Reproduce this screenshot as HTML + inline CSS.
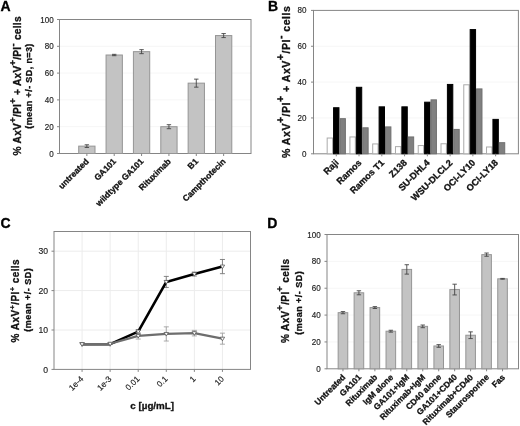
<!DOCTYPE html>
<html><head><meta charset="utf-8"><style>
html,body{margin:0;padding:0;background:#fff;}
body{width:520px;height:426px;overflow:hidden;}
svg{display:block;filter:blur(0.4px);font-family:"Liberation Sans", sans-serif;}
</style></head><body>
<svg width="520" height="426" viewBox="0 0 520 426">
<rect width="520" height="426" fill="#fff"/>
<line x1="59.5" y1="126.70" x2="251" y2="126.70" stroke="#f6f6f6" stroke-width="1"/>
<line x1="59.5" y1="99.90" x2="251" y2="99.90" stroke="#f6f6f6" stroke-width="1"/>
<line x1="59.5" y1="73.10" x2="251" y2="73.10" stroke="#f6f6f6" stroke-width="1"/>
<line x1="59.5" y1="46.30" x2="251" y2="46.30" stroke="#f6f6f6" stroke-width="1"/>
<rect x="59.5" y="19.5" width="191.5" height="134.0" fill="none" stroke="#858585" stroke-width="1"/>
<line x1="57.0" y1="153.50" x2="59.5" y2="153.50" stroke="#858585" stroke-width="1"/>
<text transform="translate(53.8 156.56) scale(0.95 1.08)" font-size="8.5" text-anchor="end" fill="#222" stroke="#222" stroke-width="0.15">0</text>
<line x1="57.0" y1="126.70" x2="59.5" y2="126.70" stroke="#858585" stroke-width="1"/>
<text transform="translate(53.8 129.76) scale(0.95 1.08)" font-size="8.5" text-anchor="end" fill="#222" stroke="#222" stroke-width="0.15">20</text>
<line x1="57.0" y1="99.90" x2="59.5" y2="99.90" stroke="#858585" stroke-width="1"/>
<text transform="translate(53.8 102.96) scale(0.95 1.08)" font-size="8.5" text-anchor="end" fill="#222" stroke="#222" stroke-width="0.15">40</text>
<line x1="57.0" y1="73.10" x2="59.5" y2="73.10" stroke="#858585" stroke-width="1"/>
<text transform="translate(53.8 76.16) scale(0.95 1.08)" font-size="8.5" text-anchor="end" fill="#222" stroke="#222" stroke-width="0.15">60</text>
<line x1="57.0" y1="46.30" x2="59.5" y2="46.30" stroke="#858585" stroke-width="1"/>
<text transform="translate(53.8 49.36) scale(0.95 1.08)" font-size="8.5" text-anchor="end" fill="#222" stroke="#222" stroke-width="0.15">80</text>
<line x1="57.0" y1="19.50" x2="59.5" y2="19.50" stroke="#858585" stroke-width="1"/>
<text transform="translate(53.8 22.56) scale(0.95 1.08)" font-size="8.5" text-anchor="end" fill="#222" stroke="#222" stroke-width="0.15">100</text>
<rect x="78.71" y="146.13" width="16.3" height="7.37" fill="#c3c3c3" stroke="#959595" stroke-width="1"/>
<line x1="86.85714285714286" y1="144.79" x2="86.85714285714286" y2="147.47" stroke="#444" stroke-width="0.9"/>
<line x1="84.65714285714286" y1="144.79" x2="89.05714285714286" y2="144.79" stroke="#444" stroke-width="0.9"/>
<line x1="84.65714285714286" y1="147.47" x2="89.05714285714286" y2="147.47" stroke="#444" stroke-width="0.9"/>
<line x1="86.86" y1="153.5" x2="86.86" y2="156.0" stroke="#858585" stroke-width="1"/>
<text x="89.36" y="162.00" font-size="8.5" font-weight="bold" text-anchor="end" fill="#111" stroke="#111" stroke-width="0.3" transform="rotate(-45 89.35714285714286 162.0)">untreated</text>
<rect x="106.06" y="55.01" width="16.3" height="98.49" fill="#c3c3c3" stroke="#959595" stroke-width="1"/>
<line x1="114.21428571428572" y1="54.34" x2="114.21428571428572" y2="55.68" stroke="#444" stroke-width="0.9"/>
<line x1="112.01428571428572" y1="54.34" x2="116.41428571428573" y2="54.34" stroke="#444" stroke-width="0.9"/>
<line x1="112.01428571428572" y1="55.68" x2="116.41428571428573" y2="55.68" stroke="#444" stroke-width="0.9"/>
<line x1="114.21" y1="153.5" x2="114.21" y2="156.0" stroke="#858585" stroke-width="1"/>
<text x="116.71" y="162.00" font-size="8.5" font-weight="bold" text-anchor="end" fill="#111" stroke="#111" stroke-width="0.3" transform="rotate(-45 116.71428571428572 162.0)">GA101</text>
<rect x="133.42" y="51.66" width="16.3" height="101.84" fill="#c3c3c3" stroke="#959595" stroke-width="1"/>
<line x1="141.57142857142856" y1="49.65" x2="141.57142857142856" y2="53.67" stroke="#444" stroke-width="0.9"/>
<line x1="139.37142857142857" y1="49.65" x2="143.77142857142854" y2="49.65" stroke="#444" stroke-width="0.9"/>
<line x1="139.37142857142857" y1="53.67" x2="143.77142857142854" y2="53.67" stroke="#444" stroke-width="0.9"/>
<line x1="141.57" y1="153.5" x2="141.57" y2="156.0" stroke="#858585" stroke-width="1"/>
<text x="144.07" y="162.00" font-size="8.5" font-weight="bold" text-anchor="end" fill="#111" stroke="#111" stroke-width="0.3" transform="rotate(-45 144.07142857142856 162.0)">wildtype GA101</text>
<rect x="160.78" y="126.70" width="16.3" height="26.80" fill="#c3c3c3" stroke="#959595" stroke-width="1"/>
<line x1="168.92857142857144" y1="124.69" x2="168.92857142857144" y2="128.71" stroke="#444" stroke-width="0.9"/>
<line x1="166.72857142857146" y1="124.69" x2="171.12857142857143" y2="124.69" stroke="#444" stroke-width="0.9"/>
<line x1="166.72857142857146" y1="128.71" x2="171.12857142857143" y2="128.71" stroke="#444" stroke-width="0.9"/>
<line x1="168.93" y1="153.5" x2="168.93" y2="156.0" stroke="#858585" stroke-width="1"/>
<text x="171.43" y="162.00" font-size="8.5" font-weight="bold" text-anchor="end" fill="#111" stroke="#111" stroke-width="0.3" transform="rotate(-45 171.42857142857144 162.0)">Rituximab</text>
<rect x="188.14" y="83.15" width="16.3" height="70.35" fill="#c3c3c3" stroke="#959595" stroke-width="1"/>
<line x1="196.28571428571428" y1="79.13" x2="196.28571428571428" y2="87.17" stroke="#444" stroke-width="0.9"/>
<line x1="194.0857142857143" y1="79.13" x2="198.48571428571427" y2="79.13" stroke="#444" stroke-width="0.9"/>
<line x1="194.0857142857143" y1="87.17" x2="198.48571428571427" y2="87.17" stroke="#444" stroke-width="0.9"/>
<line x1="196.29" y1="153.5" x2="196.29" y2="156.0" stroke="#858585" stroke-width="1"/>
<text x="198.79" y="162.00" font-size="8.5" font-weight="bold" text-anchor="end" fill="#111" stroke="#111" stroke-width="0.3" transform="rotate(-45 198.78571428571428 162.0)">B1</text>
<rect x="215.49" y="35.58" width="16.3" height="117.92" fill="#c3c3c3" stroke="#959595" stroke-width="1"/>
<line x1="223.64285714285714" y1="33.57" x2="223.64285714285714" y2="37.59" stroke="#444" stroke-width="0.9"/>
<line x1="221.44285714285715" y1="33.57" x2="225.84285714285713" y2="33.57" stroke="#444" stroke-width="0.9"/>
<line x1="221.44285714285715" y1="37.59" x2="225.84285714285713" y2="37.59" stroke="#444" stroke-width="0.9"/>
<line x1="223.64" y1="153.5" x2="223.64" y2="156.0" stroke="#858585" stroke-width="1"/>
<text x="226.14" y="162.00" font-size="8.5" font-weight="bold" text-anchor="end" fill="#111" stroke="#111" stroke-width="0.3" transform="rotate(-45 226.14285714285714 162.0)">Campthotecin</text>
<text transform="translate(21.3 85.9) rotate(-90)" font-size="10.2" font-weight="bold" text-anchor="middle" textLength="139" lengthAdjust="spacing" fill="#111" stroke="#111" stroke-width="0.3"><tspan dy="0">% AxV</tspan><tspan dy="-5" font-size="9.5">+</tspan><tspan dy="5">/PI</tspan><tspan dy="-5" font-size="9.5">+</tspan><tspan dy="5"> + AxV</tspan><tspan dy="-5" font-size="9.5">+</tspan><tspan dy="5">/PI</tspan><tspan dy="-5" font-size="9.5">-</tspan><tspan dy="5"> cells</tspan></text>
<text transform="translate(32 86.2) rotate(-90)" font-size="9" font-weight="bold" text-anchor="middle" textLength="85" lengthAdjust="spacing" fill="#111" stroke="#111" stroke-width="0.3">(mean +/- SD, n=3)</text>
<text x="0.50" y="11.00" font-size="14" font-weight="bold" text-anchor="start" fill="#000" stroke="#000" stroke-width="0.3">A</text>
<line x1="313.5" y1="117.95" x2="518.4" y2="117.95" stroke="#f6f6f6" stroke-width="1"/>
<line x1="313.5" y1="82.10" x2="518.4" y2="82.10" stroke="#f6f6f6" stroke-width="1"/>
<line x1="313.5" y1="46.25" x2="518.4" y2="46.25" stroke="#f6f6f6" stroke-width="1"/>
<rect x="313.5" y="10.4" width="204.89999999999998" height="143.4" fill="none" stroke="#858585" stroke-width="1"/>
<line x1="311.0" y1="153.80" x2="313.5" y2="153.80" stroke="#858585" stroke-width="1"/>
<text transform="translate(306.5 156.86) scale(0.95 1.08)" font-size="8.5" text-anchor="end" fill="#222" stroke="#222" stroke-width="0.15">0</text>
<line x1="311.0" y1="117.95" x2="313.5" y2="117.95" stroke="#858585" stroke-width="1"/>
<text transform="translate(306.5 121.01) scale(0.95 1.08)" font-size="8.5" text-anchor="end" fill="#222" stroke="#222" stroke-width="0.15">20</text>
<line x1="311.0" y1="82.10" x2="313.5" y2="82.10" stroke="#858585" stroke-width="1"/>
<text transform="translate(306.5 85.16) scale(0.95 1.08)" font-size="8.5" text-anchor="end" fill="#222" stroke="#222" stroke-width="0.15">40</text>
<line x1="311.0" y1="46.25" x2="313.5" y2="46.25" stroke="#858585" stroke-width="1"/>
<text transform="translate(306.5 49.31) scale(0.95 1.08)" font-size="8.5" text-anchor="end" fill="#222" stroke="#222" stroke-width="0.15">60</text>
<line x1="311.0" y1="10.40" x2="313.5" y2="10.40" stroke="#858585" stroke-width="1"/>
<text transform="translate(306.5 13.46) scale(0.95 1.08)" font-size="8.5" text-anchor="end" fill="#222" stroke="#222" stroke-width="0.15">80</text>
<rect x="327.17" y="138.03" width="5.40" height="15.77" fill="#ffffff" stroke="#aaa" stroke-width="1"/>
<rect x="333.57" y="107.73" width="5.40" height="46.07" fill="#000000" stroke="#000" stroke-width="1"/>
<rect x="339.97" y="118.67" width="5.40" height="35.13" fill="#808080" stroke="#707070" stroke-width="1"/>
<line x1="336.27" y1="153.8" x2="336.27" y2="156.3" stroke="#858585" stroke-width="1"/>
<text x="339.27" y="163.30" font-size="9.2" font-weight="bold" text-anchor="end" fill="#111" stroke="#111" stroke-width="0.3" transform="rotate(-45 339.26666666666665 163.3)">Raji</text>
<rect x="349.93" y="136.95" width="5.40" height="16.85" fill="#ffffff" stroke="#aaa" stroke-width="1"/>
<rect x="356.33" y="87.30" width="5.40" height="66.50" fill="#000000" stroke="#000" stroke-width="1"/>
<rect x="362.73" y="127.81" width="5.40" height="25.99" fill="#808080" stroke="#707070" stroke-width="1"/>
<line x1="359.03" y1="153.8" x2="359.03" y2="156.3" stroke="#858585" stroke-width="1"/>
<text x="362.03" y="163.30" font-size="9.2" font-weight="bold" text-anchor="end" fill="#111" stroke="#111" stroke-width="0.3" transform="rotate(-45 362.0333333333333 163.3)">Ramos</text>
<rect x="372.70" y="143.94" width="5.40" height="9.86" fill="#ffffff" stroke="#aaa" stroke-width="1"/>
<rect x="379.10" y="106.84" width="5.40" height="46.96" fill="#000000" stroke="#000" stroke-width="1"/>
<rect x="385.50" y="126.91" width="5.40" height="26.89" fill="#808080" stroke="#707070" stroke-width="1"/>
<line x1="381.80" y1="153.8" x2="381.80" y2="156.3" stroke="#858585" stroke-width="1"/>
<text x="384.80" y="163.30" font-size="9.2" font-weight="bold" text-anchor="end" fill="#111" stroke="#111" stroke-width="0.3" transform="rotate(-45 384.8 163.3)">Ramos T1</text>
<rect x="395.47" y="146.63" width="5.40" height="7.17" fill="#ffffff" stroke="#aaa" stroke-width="1"/>
<rect x="401.87" y="106.84" width="5.40" height="46.96" fill="#000000" stroke="#000" stroke-width="1"/>
<rect x="408.27" y="136.95" width="5.40" height="16.85" fill="#808080" stroke="#707070" stroke-width="1"/>
<line x1="404.57" y1="153.8" x2="404.57" y2="156.3" stroke="#858585" stroke-width="1"/>
<text x="407.57" y="163.30" font-size="9.2" font-weight="bold" text-anchor="end" fill="#111" stroke="#111" stroke-width="0.3" transform="rotate(-45 407.56666666666666 163.3)">Z138</text>
<rect x="418.23" y="145.55" width="5.40" height="8.25" fill="#ffffff" stroke="#aaa" stroke-width="1"/>
<rect x="424.63" y="102.18" width="5.40" height="51.62" fill="#000000" stroke="#000" stroke-width="1"/>
<rect x="431.03" y="99.85" width="5.40" height="53.95" fill="#808080" stroke="#707070" stroke-width="1"/>
<line x1="427.33" y1="153.8" x2="427.33" y2="156.3" stroke="#858585" stroke-width="1"/>
<text x="430.33" y="163.30" font-size="9.2" font-weight="bold" text-anchor="end" fill="#111" stroke="#111" stroke-width="0.3" transform="rotate(-45 430.3333333333333 163.3)">SU-DHL4</text>
<rect x="441.00" y="143.76" width="5.40" height="10.04" fill="#ffffff" stroke="#aaa" stroke-width="1"/>
<rect x="447.40" y="84.43" width="5.40" height="69.37" fill="#000000" stroke="#000" stroke-width="1"/>
<rect x="453.80" y="129.42" width="5.40" height="24.38" fill="#808080" stroke="#707070" stroke-width="1"/>
<line x1="450.10" y1="153.8" x2="450.10" y2="156.3" stroke="#858585" stroke-width="1"/>
<text x="453.10" y="163.30" font-size="9.2" font-weight="bold" text-anchor="end" fill="#111" stroke="#111" stroke-width="0.3" transform="rotate(-45 453.1 163.3)">WSU-DLCL2</text>
<rect x="463.77" y="84.79" width="5.40" height="69.01" fill="#ffffff" stroke="#aaa" stroke-width="1"/>
<rect x="470.17" y="29.58" width="5.40" height="124.22" fill="#000000" stroke="#000" stroke-width="1"/>
<rect x="476.57" y="88.91" width="5.40" height="64.89" fill="#808080" stroke="#707070" stroke-width="1"/>
<line x1="472.87" y1="153.8" x2="472.87" y2="156.3" stroke="#858585" stroke-width="1"/>
<text x="475.87" y="163.30" font-size="9.2" font-weight="bold" text-anchor="end" fill="#111" stroke="#111" stroke-width="0.3" transform="rotate(-45 475.8666666666667 163.3)">OCI-LY10</text>
<rect x="486.53" y="146.99" width="5.40" height="6.81" fill="#ffffff" stroke="#aaa" stroke-width="1"/>
<rect x="492.93" y="119.38" width="5.40" height="34.42" fill="#000000" stroke="#000" stroke-width="1"/>
<rect x="499.33" y="142.69" width="5.40" height="11.11" fill="#808080" stroke="#707070" stroke-width="1"/>
<line x1="495.63" y1="153.8" x2="495.63" y2="156.3" stroke="#858585" stroke-width="1"/>
<text x="498.63" y="163.30" font-size="9.2" font-weight="bold" text-anchor="end" fill="#111" stroke="#111" stroke-width="0.3" transform="rotate(-45 498.6333333333333 163.3)">OCI-LY18</text>
<text transform="translate(290 82.1) rotate(-90)" font-size="10.6" font-weight="bold" text-anchor="middle" textLength="152" lengthAdjust="spacing" fill="#111" stroke="#111" stroke-width="0.3"><tspan dy="0">% AxV</tspan><tspan dy="-6" font-size="10.5">+</tspan><tspan dy="6">/PI</tspan><tspan dy="-6" font-size="10.5">+</tspan><tspan dy="6"> + AxV</tspan><tspan dy="-6" font-size="10.5">+</tspan><tspan dy="6">/PI</tspan><tspan dy="-6" font-size="10.5">-</tspan><tspan dy="6"> cells</tspan></text>
<text x="268.00" y="10.50" font-size="14" font-weight="bold" text-anchor="start" fill="#000" stroke="#000" stroke-width="0.3">B</text>
<line x1="54" y1="330.00" x2="250.5" y2="330.00" stroke="#ececec" stroke-width="1"/>
<line x1="54" y1="290.60" x2="250.5" y2="290.60" stroke="#ececec" stroke-width="1"/>
<line x1="54" y1="251.20" x2="250.5" y2="251.20" stroke="#ececec" stroke-width="1"/>
<line x1="82.07" y1="231.5" x2="82.07" y2="369.4" stroke="#ececec" stroke-width="1"/>
<line x1="110.14" y1="231.5" x2="110.14" y2="369.4" stroke="#ececec" stroke-width="1"/>
<line x1="138.21" y1="231.5" x2="138.21" y2="369.4" stroke="#ececec" stroke-width="1"/>
<line x1="166.29" y1="231.5" x2="166.29" y2="369.4" stroke="#ececec" stroke-width="1"/>
<line x1="194.36" y1="231.5" x2="194.36" y2="369.4" stroke="#ececec" stroke-width="1"/>
<line x1="222.43" y1="231.5" x2="222.43" y2="369.4" stroke="#ececec" stroke-width="1"/>
<rect x="54" y="231.5" width="196.5" height="137.89999999999998" fill="none" stroke="#858585" stroke-width="1"/>
<line x1="51.5" y1="369.40" x2="54" y2="369.40" stroke="#858585" stroke-width="1"/>
<text x="48.00" y="372.50" font-size="8.6" font-weight="normal" text-anchor="end" fill="#222" stroke="#222" stroke-width="0.15">0</text>
<line x1="51.5" y1="330.00" x2="54" y2="330.00" stroke="#858585" stroke-width="1"/>
<text x="48.00" y="333.10" font-size="8.6" font-weight="normal" text-anchor="end" fill="#222" stroke="#222" stroke-width="0.15">10</text>
<line x1="51.5" y1="290.60" x2="54" y2="290.60" stroke="#858585" stroke-width="1"/>
<text x="48.00" y="293.70" font-size="8.6" font-weight="normal" text-anchor="end" fill="#222" stroke="#222" stroke-width="0.15">20</text>
<line x1="51.5" y1="251.20" x2="54" y2="251.20" stroke="#858585" stroke-width="1"/>
<text x="48.00" y="254.30" font-size="8.6" font-weight="normal" text-anchor="end" fill="#222" stroke="#222" stroke-width="0.15">30</text>
<line x1="82.07" y1="369.4" x2="82.07" y2="371.9" stroke="#858585" stroke-width="1"/>
<text x="84.07" y="379.40" font-size="8.3" font-weight="normal" text-anchor="end" fill="#222" transform="rotate(-45 84.07142857142857 379.4)" stroke="#222" stroke-width="0.15">1e-4</text>
<line x1="110.14" y1="369.4" x2="110.14" y2="371.9" stroke="#858585" stroke-width="1"/>
<text x="112.14" y="379.40" font-size="8.3" font-weight="normal" text-anchor="end" fill="#222" transform="rotate(-45 112.14285714285714 379.4)" stroke="#222" stroke-width="0.15">1e-3</text>
<line x1="138.21" y1="369.4" x2="138.21" y2="371.9" stroke="#858585" stroke-width="1"/>
<text x="140.21" y="379.40" font-size="8.3" font-weight="normal" text-anchor="end" fill="#222" transform="rotate(-45 140.21428571428572 379.4)" stroke="#222" stroke-width="0.15">0.01</text>
<line x1="166.29" y1="369.4" x2="166.29" y2="371.9" stroke="#858585" stroke-width="1"/>
<text x="168.29" y="379.40" font-size="8.3" font-weight="normal" text-anchor="end" fill="#222" transform="rotate(-45 168.28571428571428 379.4)" stroke="#222" stroke-width="0.15">0.1</text>
<line x1="194.36" y1="369.4" x2="194.36" y2="371.9" stroke="#858585" stroke-width="1"/>
<text x="196.36" y="379.40" font-size="8.3" font-weight="normal" text-anchor="end" fill="#222" transform="rotate(-45 196.35714285714286 379.4)" stroke="#222" stroke-width="0.15">1</text>
<line x1="222.43" y1="369.4" x2="222.43" y2="371.9" stroke="#858585" stroke-width="1"/>
<text x="224.43" y="379.40" font-size="8.3" font-weight="normal" text-anchor="end" fill="#222" transform="rotate(-45 224.42857142857144 379.4)" stroke="#222" stroke-width="0.15">10</text>
<line x1="138.21428571428572" y1="329.61" x2="138.21428571428572" y2="333.55" stroke="#777" stroke-width="0.9"/>
<line x1="135.71428571428572" y1="329.61" x2="140.71428571428572" y2="329.61" stroke="#777" stroke-width="0.9"/>
<line x1="135.71428571428572" y1="333.55" x2="140.71428571428572" y2="333.55" stroke="#777" stroke-width="0.9"/>
<line x1="166.28571428571428" y1="276.42" x2="166.28571428571428" y2="287.45" stroke="#777" stroke-width="0.9"/>
<line x1="163.78571428571428" y1="276.42" x2="168.78571428571428" y2="276.42" stroke="#777" stroke-width="0.9"/>
<line x1="163.78571428571428" y1="287.45" x2="168.78571428571428" y2="287.45" stroke="#777" stroke-width="0.9"/>
<line x1="194.35714285714286" y1="272.08" x2="194.35714285714286" y2="276.02" stroke="#777" stroke-width="0.9"/>
<line x1="191.85714285714286" y1="272.08" x2="196.85714285714286" y2="272.08" stroke="#777" stroke-width="0.9"/>
<line x1="191.85714285714286" y1="276.02" x2="196.85714285714286" y2="276.02" stroke="#777" stroke-width="0.9"/>
<line x1="222.42857142857144" y1="259.47" x2="222.42857142857144" y2="273.66" stroke="#777" stroke-width="0.9"/>
<line x1="219.92857142857144" y1="259.47" x2="224.92857142857144" y2="259.47" stroke="#777" stroke-width="0.9"/>
<line x1="219.92857142857144" y1="273.66" x2="224.92857142857144" y2="273.66" stroke="#777" stroke-width="0.9"/>
<path d="M82.07 344.18 L110.14 344.18 L138.21 331.58 L166.29 281.93 L194.36 274.05 L222.43 266.57" fill="none" stroke="#000" stroke-width="2.6" stroke-linejoin="round"/>
<path d="M79.87 342.68 L84.27 342.68 L82.07 346.28 Z" fill="#fff" stroke="#555" stroke-width="0.8"/>
<path d="M107.94 342.68 L112.34 342.68 L110.14 346.28 Z" fill="#fff" stroke="#555" stroke-width="0.8"/>
<path d="M136.01 330.08 L140.41 330.08 L138.21 333.68 Z" fill="#fff" stroke="#555" stroke-width="0.8"/>
<path d="M164.09 280.43 L168.49 280.43 L166.29 284.03 Z" fill="#fff" stroke="#555" stroke-width="0.8"/>
<path d="M192.16 272.55 L196.56 272.55 L194.36 276.15 Z" fill="#fff" stroke="#555" stroke-width="0.8"/>
<path d="M220.23 265.07 L224.63 265.07 L222.43 268.67 Z" fill="#fff" stroke="#555" stroke-width="0.8"/>
<line x1="138.21428571428572" y1="332.76" x2="138.21428571428572" y2="339.06" stroke="#a0a0a0" stroke-width="0.9"/>
<line x1="135.71428571428572" y1="332.76" x2="140.71428571428572" y2="332.76" stroke="#a0a0a0" stroke-width="0.9"/>
<line x1="135.71428571428572" y1="339.06" x2="140.71428571428572" y2="339.06" stroke="#a0a0a0" stroke-width="0.9"/>
<line x1="166.28571428571428" y1="326.85" x2="166.28571428571428" y2="341.03" stroke="#a0a0a0" stroke-width="0.9"/>
<line x1="163.78571428571428" y1="326.85" x2="168.78571428571428" y2="326.85" stroke="#a0a0a0" stroke-width="0.9"/>
<line x1="163.78571428571428" y1="341.03" x2="168.78571428571428" y2="341.03" stroke="#a0a0a0" stroke-width="0.9"/>
<line x1="194.35714285714286" y1="330.39" x2="194.35714285714286" y2="335.91" stroke="#a0a0a0" stroke-width="0.9"/>
<line x1="191.85714285714286" y1="330.39" x2="196.85714285714286" y2="330.39" stroke="#a0a0a0" stroke-width="0.9"/>
<line x1="191.85714285714286" y1="335.91" x2="196.85714285714286" y2="335.91" stroke="#a0a0a0" stroke-width="0.9"/>
<line x1="222.42857142857144" y1="333.15" x2="222.42857142857144" y2="344.18" stroke="#a0a0a0" stroke-width="0.9"/>
<line x1="219.92857142857144" y1="333.15" x2="224.92857142857144" y2="333.15" stroke="#a0a0a0" stroke-width="0.9"/>
<line x1="219.92857142857144" y1="344.18" x2="224.92857142857144" y2="344.18" stroke="#a0a0a0" stroke-width="0.9"/>
<path d="M82.07 344.18 L110.14 343.79 L138.21 335.91 L166.29 333.94 L194.36 333.15 L222.43 338.67" fill="none" stroke="#6e6e6e" stroke-width="2.2" stroke-linejoin="round"/>
<path d="M79.87 342.68 L84.27 342.68 L82.07 346.28 Z" fill="#fff" stroke="#555" stroke-width="0.8"/>
<path d="M107.94 342.29 L112.34 342.29 L110.14 345.89 Z" fill="#fff" stroke="#555" stroke-width="0.8"/>
<path d="M136.01 334.41 L140.41 334.41 L138.21 338.01 Z" fill="#fff" stroke="#555" stroke-width="0.8"/>
<path d="M164.09 332.44 L168.49 332.44 L166.29 336.04 Z" fill="#fff" stroke="#555" stroke-width="0.8"/>
<path d="M192.16 331.65 L196.56 331.65 L194.36 335.25 Z" fill="#fff" stroke="#555" stroke-width="0.8"/>
<path d="M220.23 337.17 L224.63 337.17 L222.43 340.77 Z" fill="#fff" stroke="#555" stroke-width="0.8"/>
<text transform="translate(19 300.9) rotate(-90)" font-size="10" font-weight="bold" text-anchor="middle" textLength="83" lengthAdjust="spacing" fill="#111" stroke="#111" stroke-width="0.3"><tspan dy="0">% AxV</tspan><tspan dy="-4.2" font-size="7.5">+</tspan><tspan dy="4.2">/PI</tspan><tspan dy="-4.2" font-size="7.5">+</tspan><tspan dy="4.2"> cells</tspan></text>
<text transform="translate(31 300) rotate(-90)" font-size="9" font-weight="bold" text-anchor="middle" textLength="63.5" lengthAdjust="spacing" fill="#111" stroke="#111" stroke-width="0.3">(mean +/- SD)</text>
<text x="152.20" y="409.30" font-size="9.8" font-weight="bold" text-anchor="middle" fill="#111" stroke="#111" stroke-width="0.3">c [µg/mL]</text>
<text x="0.50" y="228.00" font-size="14" font-weight="bold" text-anchor="start" fill="#000" stroke="#000" stroke-width="0.3">C</text>
<line x1="327" y1="341.94" x2="518.5" y2="341.94" stroke="#f6f6f6" stroke-width="1"/>
<line x1="327" y1="315.08" x2="518.5" y2="315.08" stroke="#f6f6f6" stroke-width="1"/>
<line x1="327" y1="288.22" x2="518.5" y2="288.22" stroke="#f6f6f6" stroke-width="1"/>
<line x1="327" y1="261.36" x2="518.5" y2="261.36" stroke="#f6f6f6" stroke-width="1"/>
<rect x="327" y="234.5" width="191.5" height="134.3" fill="none" stroke="#858585" stroke-width="1"/>
<line x1="324.5" y1="368.80" x2="327" y2="368.80" stroke="#858585" stroke-width="1"/>
<text transform="translate(320.8 371.86) scale(0.95 1.08)" font-size="8.5" text-anchor="end" fill="#222" stroke="#222" stroke-width="0.15">0</text>
<line x1="324.5" y1="341.94" x2="327" y2="341.94" stroke="#858585" stroke-width="1"/>
<text transform="translate(320.8 345.00) scale(0.95 1.08)" font-size="8.5" text-anchor="end" fill="#222" stroke="#222" stroke-width="0.15">20</text>
<line x1="324.5" y1="315.08" x2="327" y2="315.08" stroke="#858585" stroke-width="1"/>
<text transform="translate(320.8 318.14) scale(0.95 1.08)" font-size="8.5" text-anchor="end" fill="#222" stroke="#222" stroke-width="0.15">40</text>
<line x1="324.5" y1="288.22" x2="327" y2="288.22" stroke="#858585" stroke-width="1"/>
<text transform="translate(320.8 291.28) scale(0.95 1.08)" font-size="8.5" text-anchor="end" fill="#222" stroke="#222" stroke-width="0.15">60</text>
<line x1="324.5" y1="261.36" x2="327" y2="261.36" stroke="#858585" stroke-width="1"/>
<text transform="translate(320.8 264.42) scale(0.95 1.08)" font-size="8.5" text-anchor="end" fill="#222" stroke="#222" stroke-width="0.15">80</text>
<line x1="324.5" y1="234.50" x2="327" y2="234.50" stroke="#858585" stroke-width="1"/>
<text transform="translate(320.8 237.56) scale(0.95 1.08)" font-size="8.5" text-anchor="end" fill="#222" stroke="#222" stroke-width="0.15">100</text>
<rect x="338.16" y="312.66" width="9.6" height="56.14" fill="#c3c3c3" stroke="#959595" stroke-width="1"/>
<line x1="342.9583333333333" y1="311.59" x2="342.9583333333333" y2="313.74" stroke="#444" stroke-width="0.9"/>
<line x1="340.7583333333333" y1="311.59" x2="345.1583333333333" y2="311.59" stroke="#444" stroke-width="0.9"/>
<line x1="340.7583333333333" y1="313.74" x2="345.1583333333333" y2="313.74" stroke="#444" stroke-width="0.9"/>
<line x1="342.96" y1="368.8" x2="342.96" y2="371.3" stroke="#858585" stroke-width="1"/>
<text x="345.96" y="377.80" font-size="8.45" font-weight="bold" text-anchor="end" fill="#111" stroke="#111" stroke-width="0.3" transform="rotate(-45 345.9583333333333 377.8)">Untreated</text>
<rect x="354.12" y="292.79" width="9.6" height="76.01" fill="#c3c3c3" stroke="#959595" stroke-width="1"/>
<line x1="358.9166666666667" y1="290.77" x2="358.9166666666667" y2="294.80" stroke="#444" stroke-width="0.9"/>
<line x1="356.7166666666667" y1="290.77" x2="361.1166666666667" y2="290.77" stroke="#444" stroke-width="0.9"/>
<line x1="356.7166666666667" y1="294.80" x2="361.1166666666667" y2="294.80" stroke="#444" stroke-width="0.9"/>
<line x1="358.92" y1="368.8" x2="358.92" y2="371.3" stroke="#858585" stroke-width="1"/>
<text x="361.92" y="377.80" font-size="8.45" font-weight="bold" text-anchor="end" fill="#111" stroke="#111" stroke-width="0.3" transform="rotate(-45 361.9166666666667 377.8)">GA101</text>
<rect x="370.07" y="307.56" width="9.6" height="61.24" fill="#c3c3c3" stroke="#959595" stroke-width="1"/>
<line x1="374.875" y1="306.62" x2="374.875" y2="308.50" stroke="#444" stroke-width="0.9"/>
<line x1="372.675" y1="306.62" x2="377.075" y2="306.62" stroke="#444" stroke-width="0.9"/>
<line x1="372.675" y1="308.50" x2="377.075" y2="308.50" stroke="#444" stroke-width="0.9"/>
<line x1="374.88" y1="368.8" x2="374.88" y2="371.3" stroke="#858585" stroke-width="1"/>
<text x="377.88" y="377.80" font-size="8.45" font-weight="bold" text-anchor="end" fill="#111" stroke="#111" stroke-width="0.3" transform="rotate(-45 377.875 377.8)">Rituximab</text>
<rect x="386.03" y="331.20" width="9.6" height="37.60" fill="#c3c3c3" stroke="#959595" stroke-width="1"/>
<line x1="390.8333333333333" y1="330.26" x2="390.8333333333333" y2="332.14" stroke="#444" stroke-width="0.9"/>
<line x1="388.6333333333333" y1="330.26" x2="393.0333333333333" y2="330.26" stroke="#444" stroke-width="0.9"/>
<line x1="388.6333333333333" y1="332.14" x2="393.0333333333333" y2="332.14" stroke="#444" stroke-width="0.9"/>
<line x1="390.83" y1="368.8" x2="390.83" y2="371.3" stroke="#858585" stroke-width="1"/>
<text x="393.83" y="377.80" font-size="8.45" font-weight="bold" text-anchor="end" fill="#111" stroke="#111" stroke-width="0.3" transform="rotate(-45 393.8333333333333 377.8)">IgM alone</text>
<rect x="401.99" y="269.42" width="9.6" height="99.38" fill="#c3c3c3" stroke="#959595" stroke-width="1"/>
<line x1="406.7916666666667" y1="264.72" x2="406.7916666666667" y2="274.12" stroke="#444" stroke-width="0.9"/>
<line x1="404.5916666666667" y1="264.72" x2="408.9916666666667" y2="264.72" stroke="#444" stroke-width="0.9"/>
<line x1="404.5916666666667" y1="274.12" x2="408.9916666666667" y2="274.12" stroke="#444" stroke-width="0.9"/>
<line x1="406.79" y1="368.8" x2="406.79" y2="371.3" stroke="#858585" stroke-width="1"/>
<text x="409.79" y="377.80" font-size="8.45" font-weight="bold" text-anchor="end" fill="#111" stroke="#111" stroke-width="0.3" transform="rotate(-45 409.7916666666667 377.8)">GA101+IgM</text>
<rect x="417.95" y="326.36" width="9.6" height="42.44" fill="#c3c3c3" stroke="#959595" stroke-width="1"/>
<line x1="422.75" y1="325.02" x2="422.75" y2="327.70" stroke="#444" stroke-width="0.9"/>
<line x1="420.55" y1="325.02" x2="424.95" y2="325.02" stroke="#444" stroke-width="0.9"/>
<line x1="420.55" y1="327.70" x2="424.95" y2="327.70" stroke="#444" stroke-width="0.9"/>
<line x1="422.75" y1="368.8" x2="422.75" y2="371.3" stroke="#858585" stroke-width="1"/>
<text x="425.75" y="377.80" font-size="8.45" font-weight="bold" text-anchor="end" fill="#111" stroke="#111" stroke-width="0.3" transform="rotate(-45 425.75 377.8)">Rituximab+IgM</text>
<rect x="433.91" y="345.97" width="9.6" height="22.83" fill="#c3c3c3" stroke="#959595" stroke-width="1"/>
<line x1="438.70833333333337" y1="344.63" x2="438.70833333333337" y2="347.31" stroke="#444" stroke-width="0.9"/>
<line x1="436.5083333333334" y1="344.63" x2="440.90833333333336" y2="344.63" stroke="#444" stroke-width="0.9"/>
<line x1="436.5083333333334" y1="347.31" x2="440.90833333333336" y2="347.31" stroke="#444" stroke-width="0.9"/>
<line x1="438.71" y1="368.8" x2="438.71" y2="371.3" stroke="#858585" stroke-width="1"/>
<text x="441.71" y="377.80" font-size="8.45" font-weight="bold" text-anchor="end" fill="#111" stroke="#111" stroke-width="0.3" transform="rotate(-45 441.70833333333337 377.8)">CD40 alone</text>
<rect x="449.87" y="289.56" width="9.6" height="79.24" fill="#c3c3c3" stroke="#959595" stroke-width="1"/>
<line x1="454.6666666666667" y1="284.19" x2="454.6666666666667" y2="294.94" stroke="#444" stroke-width="0.9"/>
<line x1="452.4666666666667" y1="284.19" x2="456.8666666666667" y2="284.19" stroke="#444" stroke-width="0.9"/>
<line x1="452.4666666666667" y1="294.94" x2="456.8666666666667" y2="294.94" stroke="#444" stroke-width="0.9"/>
<line x1="454.67" y1="368.8" x2="454.67" y2="371.3" stroke="#858585" stroke-width="1"/>
<text x="457.67" y="377.80" font-size="8.45" font-weight="bold" text-anchor="end" fill="#111" stroke="#111" stroke-width="0.3" transform="rotate(-45 457.6666666666667 377.8)">GA101+CD40</text>
<rect x="465.82" y="335.23" width="9.6" height="33.57" fill="#c3c3c3" stroke="#959595" stroke-width="1"/>
<line x1="470.625" y1="331.87" x2="470.625" y2="338.58" stroke="#444" stroke-width="0.9"/>
<line x1="468.425" y1="331.87" x2="472.825" y2="331.87" stroke="#444" stroke-width="0.9"/>
<line x1="468.425" y1="338.58" x2="472.825" y2="338.58" stroke="#444" stroke-width="0.9"/>
<line x1="470.62" y1="368.8" x2="470.62" y2="371.3" stroke="#858585" stroke-width="1"/>
<text x="473.62" y="377.80" font-size="8.45" font-weight="bold" text-anchor="end" fill="#111" stroke="#111" stroke-width="0.3" transform="rotate(-45 473.625 377.8)">Rituximab+CD40</text>
<rect x="481.78" y="254.64" width="9.6" height="114.16" fill="#c3c3c3" stroke="#959595" stroke-width="1"/>
<line x1="486.58333333333337" y1="253.03" x2="486.58333333333337" y2="256.26" stroke="#444" stroke-width="0.9"/>
<line x1="484.3833333333334" y1="253.03" x2="488.78333333333336" y2="253.03" stroke="#444" stroke-width="0.9"/>
<line x1="484.3833333333334" y1="256.26" x2="488.78333333333336" y2="256.26" stroke="#444" stroke-width="0.9"/>
<line x1="486.58" y1="368.8" x2="486.58" y2="371.3" stroke="#858585" stroke-width="1"/>
<text x="489.58" y="377.80" font-size="8.45" font-weight="bold" text-anchor="end" fill="#111" stroke="#111" stroke-width="0.3" transform="rotate(-45 489.58333333333337 377.8)">Staurosporine</text>
<rect x="497.74" y="278.82" width="9.6" height="89.98" fill="#c3c3c3" stroke="#959595" stroke-width="1"/>
<line x1="502.5416666666667" y1="278.42" x2="502.5416666666667" y2="279.22" stroke="#444" stroke-width="0.9"/>
<line x1="500.3416666666667" y1="278.42" x2="504.7416666666667" y2="278.42" stroke="#444" stroke-width="0.9"/>
<line x1="500.3416666666667" y1="279.22" x2="504.7416666666667" y2="279.22" stroke="#444" stroke-width="0.9"/>
<line x1="502.54" y1="368.8" x2="502.54" y2="371.3" stroke="#858585" stroke-width="1"/>
<text x="505.54" y="377.80" font-size="8.45" font-weight="bold" text-anchor="end" fill="#111" stroke="#111" stroke-width="0.3" transform="rotate(-45 505.5416666666667 377.8)">Fas</text>
<text transform="translate(288.7 301) rotate(-90)" font-size="10" font-weight="bold" text-anchor="middle" textLength="84" lengthAdjust="spacing" fill="#111" stroke="#111" stroke-width="0.3"><tspan dy="0">% AxV</tspan><tspan dy="-5.5" font-size="9">+</tspan><tspan dy="5.5">/PI</tspan><tspan dy="-5.5" font-size="9">+</tspan><tspan dy="5.5"> cells</tspan></text>
<text transform="translate(301.5 303) rotate(-90)" font-size="9" font-weight="bold" text-anchor="middle" textLength="63.5" lengthAdjust="spacing" fill="#111" stroke="#111" stroke-width="0.3">(mean +/- SD)</text>
<text x="267.20" y="228.00" font-size="14" font-weight="bold" text-anchor="start" fill="#000" stroke="#000" stroke-width="0.3">D</text>
</svg>
</body></html>
